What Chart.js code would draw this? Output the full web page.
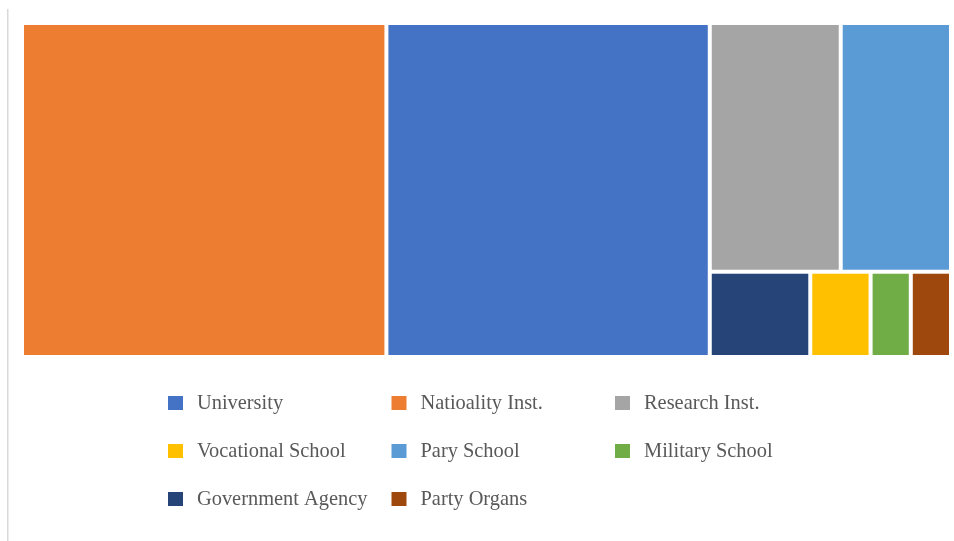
<!DOCTYPE html>
<html>
<head>
<meta charset="utf-8">
<title>Institution types</title>
<script src="https://cdn.jsdelivr.net/npm/chart.js@4.4.1/dist/chart.umd.min.js"></script>
<style>
  html, body { margin: 0; padding: 0; background: #ffffff; }
  #wrap { position: relative; width: 954px; height: 541px; }
  canvas { display: block; }
</style>
</head>
<body>
<div id="wrap"><canvas id="chart" width="954" height="541"></canvas></div>
<script>
// Institution categories and their counts
const categories = [
  'University', 'Natioality Inst.', 'Research Inst.',
  'Vocational School', 'Pary School', 'Military School',
  'Government Agency', 'Party Organs'
];
const counts = [63, 71, 19, 3, 16, 2, 5, 2];
const palette = [
  '#4472C4', '#ED7D31', '#A5A5A5',
  '#FFC000', '#5B9BD5', '#70AD47',
  '#264478', '#9E480E'
];

// Strip-based treemap layout. Each strip spans the short side of the space that
// is left; items are added to it while the strip gets closer to square and no
// item in it becomes more elongated than MAX_ELONGATION.
const MAX_ELONGATION = 2.5;
function layoutTreemap(values, rect) {
  const order = values.map((v, i) => ({ i, v })).sort((a, b) => b.v - a.v);
  const boxes = new Array(values.length);
  const rem = { x: rect.x, y: rect.y, w: rect.w, h: rect.h };
  let k = 0;
  while (k < order.length) {
    const rest = order.slice(k);
    const restSum = rest.reduce((s, o) => s + o.v, 0);
    const horizontal = rem.w >= rem.h;
    const longSide = horizontal ? rem.w : rem.h;
    const shortSide = horizontal ? rem.h : rem.w;
    let n = 0, best = Infinity, stripSum = 0;
    for (let j = 0; j < rest.length; j++) {
      const s = stripSum + rest[j].v;
      const thick = s / restSum * longSide;
      const score = Math.max(thick / shortSide, shortSide / thick);
      const len = rest[j].v / s * shortSide;
      const elong = Math.max(thick / len, len / thick);
      if (n === 0 || (score < best && elong <= MAX_ELONGATION)) {
        best = score; n = j + 1; stripSum = s;
      } else break;
    }
    const thick = stripSum / restSum * longSide;
    let pos = horizontal ? rem.y : rem.x;
    for (let j = 0; j < n; j++) {
      const o = rest[j];
      const len = o.v / stripSum * shortSide;
      boxes[o.i] = horizontal
        ? { x: rem.x, y: pos, w: thick, h: len }
        : { x: pos, y: rem.y, w: len, h: thick };
      pos += len;
    }
    if (horizontal) { rem.x += thick; rem.w -= thick; }
    else { rem.y += thick; rem.h -= thick; }
    k += n;
  }
  return boxes;
}

class TreemapCell extends Chart.Element {
  static id = 'treemapCell';
  static defaults = { backgroundColor: undefined, borderColor: '#ffffff', borderWidth: 2 };
  constructor(cfg) {
    super();
    this.options = undefined;
    this.x = undefined; this.y = undefined;
    this.width = undefined; this.height = undefined;
    if (cfg) Object.assign(this, cfg);
  }
  draw(ctx) {
    const { x, y, width, height, options } = this;
    if (!options || !(width > 0) || !(height > 0)) return;
    const b = options.borderWidth || 0;
    ctx.save();
    ctx.fillStyle = options.borderColor;
    ctx.fillRect(x, y, width, height);
    ctx.fillStyle = options.backgroundColor;
    ctx.fillRect(x + b, y + b, width - 2 * b, height - 2 * b);
    ctx.restore();
  }
  inRange(mx, my) {
    return mx >= this.x && mx <= this.x + this.width && my >= this.y && my <= this.y + this.height;
  }
  inXRange(mx) { return mx >= this.x && mx <= this.x + this.width; }
  inYRange(my) { return my >= this.y && my <= this.y + this.height; }
  getCenterPoint() { return { x: this.x + this.width / 2, y: this.y + this.height / 2 }; }
  tooltipPosition() { return this.getCenterPoint(); }
}

class TreemapController extends Chart.DatasetController {
  static id = 'treemap';
  static defaults = { datasetElementType: false, dataElementType: 'treemapCell' };
  update(mode) {
    const meta = this._cachedMeta;
    this.updateElements(meta.data, 0, meta.data.length, mode);
  }
  updateElements(cells, start, count, mode) {
    const meta = this._cachedMeta;
    const xs = meta.xScale, ys = meta.yScale;
    const left = xs.getPixelForValue(0), right = xs.getPixelForValue(1);
    const top = ys.getPixelForValue(1), bottom = ys.getPixelForValue(0);
    const values = meta._parsed.map(p => p[meta.vScale.axis]);
    const boxes = layoutTreemap(values, { x: left, y: top, w: right - left, h: bottom - top });
    for (let i = start; i < start + count; i++) {
      const b = boxes[i];
      this.updateElement(cells[i], i, {
        x: b.x, y: b.y, width: b.w, height: b.h,
        options: this.resolveDataElementOptions(i, mode)
      }, mode);
    }
  }
}

Chart.register(TreemapController, TreemapCell);

// Legend laid out as a three-column grid under the tiles, plus the frame rule on the left
const gridLegend = {
  id: 'gridLegend',
  afterDraw(chart) {
    const ctx = chart.ctx;
    ctx.save();
    ctx.fillStyle = '#d9d9d9';
    ctx.fillRect(7, 9, 1.5, chart.height - 9);
    ctx.font = '20.4px "Liberation Serif", "DejaVu Serif", serif';
    ctx.textBaseline = 'alphabetic';
    ctx.textAlign = 'left';
    const colors = chart.data.datasets[0].backgroundColor;
    chart.data.labels.forEach((label, i) => {
      const col = i % 3, row = Math.floor(i / 3);
      const bx = 168 + col * 223.5;
      const cy = 403 + row * 48;
      ctx.fillStyle = colors[i];
      ctx.fillRect(bx, cy - 7, 15, 14);
      ctx.fillStyle = '#595959';
      ctx.fillText(label, bx + 29, cy + 6);
    });
    ctx.restore();
  }
};

new Chart(document.getElementById('chart'), {
  type: 'treemap',
  data: {
    labels: categories,
    datasets: [{
      label: 'Institutions',
      data: counts,
      backgroundColor: palette,
      borderColor: '#ffffff',
      borderWidth: 2
    }]
  },
  options: {
    responsive: false,
    animation: false,
    layout: { padding: { left: 22, right: 3, top: 23, bottom: 184 } },
    scales: {
      x: { type: 'linear', display: false, min: 0, max: 1 },
      y: { type: 'linear', display: false, min: 0, max: 1 }
    },
    plugins: {
      legend: { display: false },
      tooltip: { enabled: false }
    }
  },
  plugins: [gridLegend]
});
</script>
</body>
</html>
